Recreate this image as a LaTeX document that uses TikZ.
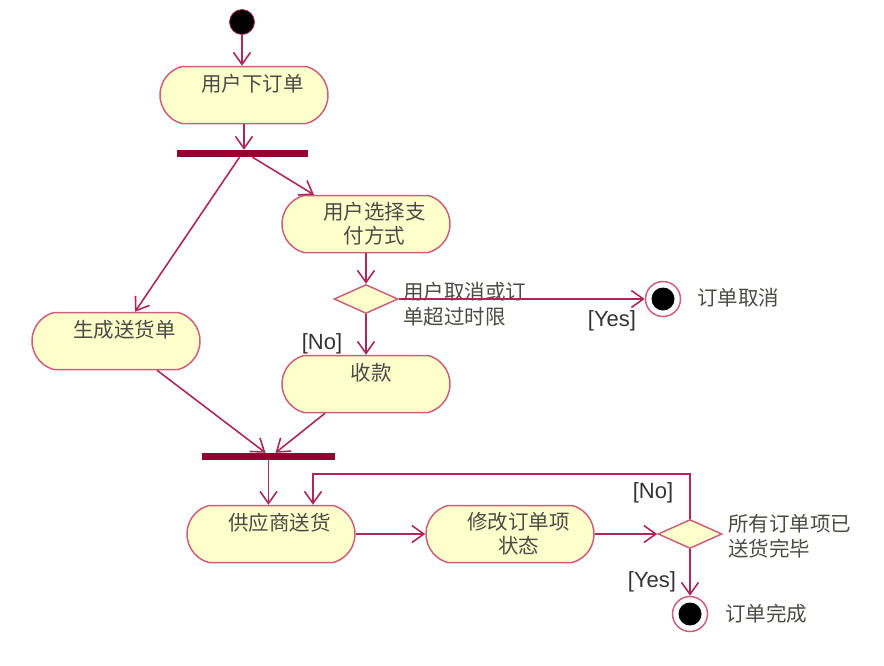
\documentclass[tikz,border=0pt]{standalone}
\usepackage{fontspec}
\setsansfont{Liberation Sans}
\newfontfamily\cjk{Noto Sans CJK SC}
\usetikzlibrary{shapes.geometric,shapes.misc,arrows.meta,calc}
\definecolor{edgec}{RGB}{172,40,88}
\definecolor{bordc}{RGB}{205,95,125}
\definecolor{fillc}{RGB}{255,255,204}
\definecolor{barc}{RGB}{150,0,48}
\definecolor{txtc}{RGB}{75,75,70}
\newcommand\actpad{\hspace*{17pt}}
\begin{document}
\begin{tikzpicture}[x=1pt,y=-1pt,
  act/.style={rounded rectangle, rounded rectangle arc length=150, draw=bordc, line width=1.5pt, fill=fillc,
    minimum width=168pt, minimum height=57pt, inner sep=0pt, align=center, text=txtc,
    font=\cjk\fontsize{20.5}{24}\selectfont},
  forkbar/.style={rectangle, fill=barc, inner sep=0pt, minimum height=7pt},
  dec/.style={diamond, draw=bordc, line width=1.5pt, fill=fillc, inner sep=0pt, minimum width=64pt, minimum height=29pt},
  initial/.style={circle, fill=black, draw=edgec, line width=0.8pt, minimum size=25pt, inner sep=0pt},
  final/.style={circle, draw=bordc, fill=white, line width=1.5pt, minimum size=35pt, inner sep=0pt,
    path picture={\fill[black] (path picture bounding box.center) circle (11.5pt);}},
  lbl/.style={text=txtc, font=\cjk\fontsize{20.5}{25}\selectfont, align=left, inner sep=0pt},
  guard/.style={text=black!80, font=\sffamily\fontsize{22}{24}\selectfont, inner sep=0pt},
  flow/.style={draw=edgec, line width=1.6pt, -{Straight Barb[length=12pt,width=17pt,line width=1.6pt]}}
]
\useasboundingbox (0,0) rectangle (884,665);

\node[initial] (start) at (242,22) {};
\node[act] (a1) at (244,95) {\actpad 用户下订单\\\mbox{}};
\node[forkbar, minimum width=131pt] (f1) at (242.5,153.5) {};
\node[act] (a2) at (366,224) {\actpad 用户选择支\\\actpad 付方式};
\node[dec] (d1) at (366,299) {};
\node[final] (end1) at (663,299) {};
\node[act] (a3) at (366,384) {\hspace*{10pt}收款\\\mbox{}};
\node[act] (a4) at (116,341) {\actpad 生成送货单\\\mbox{}};
\node[forkbar, minimum width=133pt] (f2) at (268.5,456.5) {};
\node[act] (a5) at (271,534) {\actpad 供应商送货\\\mbox{}};
\node[act] (a6) at (510,534) {\actpad 修改订单项\\\actpad 状态};
\node[dec] (d2) at (690,534) {};
\node[final] (end2) at (690,614) {};

\node[lbl, anchor=west] (t1) at (403,304) {用户取消或订\\单超过时限};
\node[guard] (g1) at (612,321) {[Yes]};
\node[lbl, anchor=west] (t2) at (697,298) {订单取消};
\node[guard] (g2) at (322,344) {[No]};
\node[lbl, anchor=west] (t3) at (728,536) {所有订单项已\\送货完毕};
\node[guard] (g3) at (653,493) {[No]};
\node[guard] (g4) at (652,582) {[Yes]};
\node[lbl, anchor=west] (t4) at (725,614) {订单完成};

\draw[flow] (start) -- (start |- a1.north);
\draw[flow] (a1.south) -- (a1.south |- f1.north);
\draw[flow] ([xshift=-3pt]f1.south) -- ([xshift=19pt]a4.north);
\draw[flow] ([xshift=10pt]f1.south) -- ([xshift=-52pt]a2.north);
\draw[flow] (a2.south) -- (d1.north);
\draw[flow] (d1.east) -- (end1.west);
\draw[flow] (d1.south) -- (d1.south |- a3.north);
\draw[flow] ([xshift=41pt]a4.south) -- ([xshift=-3pt]f2.north);
\draw[flow] ([xshift=-41pt]a3.south) -- ([xshift=7pt]f2.north);
\draw[flow] (f2.south) -- (f2.south |- a5.north);
\draw[flow] (d2.north) -- ++(0,-45) -| ([xshift=42pt]a5.north);
\draw[flow] (a5.east) -- (a5.east -| a6.west);
\draw[flow] (a6.east) -- (d2.west);
\draw[flow] (d2.south) -- (end2.north);
\end{tikzpicture}
\end{document}
